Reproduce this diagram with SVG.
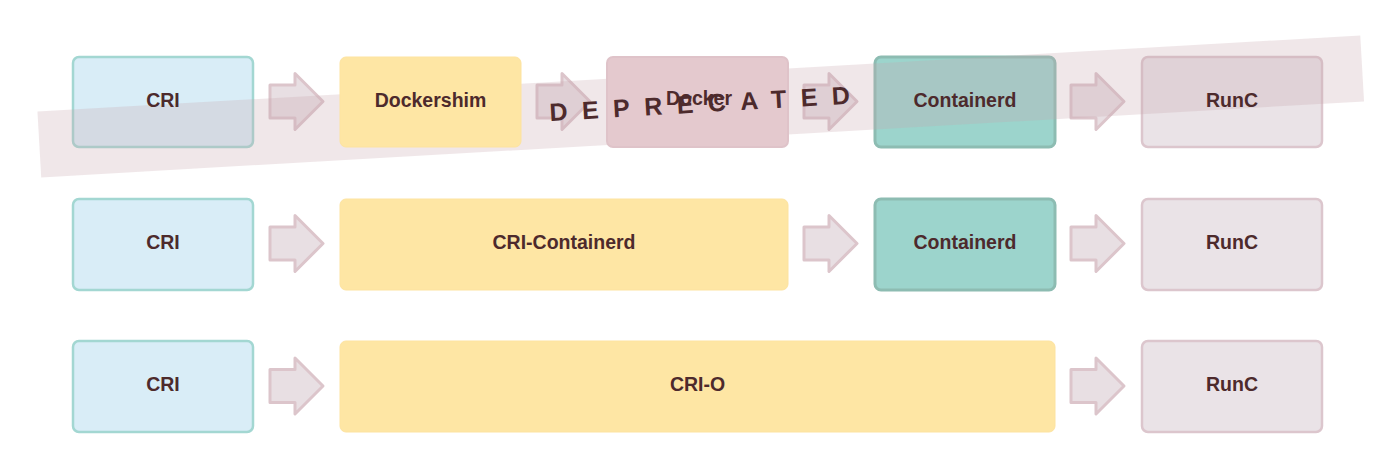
<svg xmlns="http://www.w3.org/2000/svg" width="1400" height="467" viewBox="0 0 1400 467">
  <style>
    .lbl { font-family: "Liberation Sans", Arial, sans-serif; font-weight: bold; font-size: 19.5px; fill: #4d2a2c; text-anchor: middle; }
    .cri { fill: #d9edf7; stroke: #a3d7d2; stroke-width: 2.5; }
    .shim { fill: #fee6a4; stroke: #fde3a0; stroke-width: 1; }
    .docker { fill: #e4c9ce; stroke: #dfc3c9; stroke-width: 2; }
    .ctd { fill: #9cd4cc; stroke: #8dbcb2; stroke-width: 3; }
    .runc { fill: #eae3e7; stroke: #dcc6cd; stroke-width: 2.5; }
    .arrow { fill: #e8dfe3; stroke: #dcc5cb; stroke-width: 3; stroke-linejoin: round; }
    .banner { fill: #c8a8ae; fill-opacity: 0.27; }
    .dep { font-family: "Liberation Sans", Arial, sans-serif; font-weight: bold; font-size: 25px; fill: #4d2a2c; letter-spacing: 14.5px; }
  </style>
  <defs>
    <path id="arr" d="M0,-16.5 H25 V-28 L53,0 L25,28 V16.5 H0 Z"/>
  </defs>
  <rect width="1400" height="467" fill="#ffffff"/>

  <g id="connectors">
    <use href="#arr" class="arrow" transform="translate(270,101.5)"/>
    <use href="#arr" class="arrow" transform="translate(537,101.5)"/>
    <use href="#arr" class="arrow" transform="translate(804,101.5)"/>
    <use href="#arr" class="arrow" transform="translate(1071,101.5)"/>
    <use href="#arr" class="arrow" transform="translate(270,243.5)"/>
    <use href="#arr" class="arrow" transform="translate(804,243.5)"/>
    <use href="#arr" class="arrow" transform="translate(1071,243.5)"/>
    <use href="#arr" class="arrow" transform="translate(270,386)"/>
    <use href="#arr" class="arrow" transform="translate(1071,386)"/>
  </g>

  <g id="cri1"><rect class="cri" x="73" y="57" width="180" height="90" rx="6"/></g>
  <g id="containerd1"><rect class="ctd" x="875" y="57" width="180" height="90" rx="6"/></g>
  <g id="runc1"><rect class="runc" x="1142" y="57" width="180" height="90" rx="6"/></g>

  <g id="deprecated-banner">
    <rect class="banner" x="38.25" y="73.5" width="1325" height="66" transform="rotate(-3.29 700.75 106.5)"/>
  </g>

  <g id="dockershim"><rect class="shim" x="340" y="57" width="181" height="90" rx="6"/></g>
  <g id="docker"><rect class="docker" x="607" y="57" width="181" height="90" rx="6"/></g>

  <g id="cri2"><rect class="cri" x="73" y="199" width="180" height="91" rx="6"/><text class="lbl" x="163" y="249">CRI</text></g>
  <g id="cri-containerd"><rect class="shim" x="340" y="199" width="448" height="91" rx="6"/><text class="lbl" x="564" y="249">CRI-Containerd</text></g>
  <g id="containerd2"><rect class="ctd" x="875" y="199" width="180" height="91" rx="6"/><text class="lbl" x="965" y="249">Containerd</text></g>
  <g id="runc2"><rect class="runc" x="1142" y="199" width="180" height="91" rx="6"/><text class="lbl" x="1232" y="249">RunC</text></g>

  <g id="cri3"><rect class="cri" x="73" y="341" width="180" height="91" rx="6"/><text class="lbl" x="163" y="391">CRI</text></g>
  <g id="cri-o"><rect class="shim" x="340" y="341" width="715" height="91" rx="6"/><text class="lbl" x="697.5" y="391">CRI-O</text></g>
  <g id="runc3"><rect class="runc" x="1142" y="341" width="180" height="91" rx="6"/><text class="lbl" x="1232" y="391">RunC</text></g>

  <g id="row1-labels">
    <text class="lbl" x="163" y="106.5">CRI</text>
    <text class="lbl" x="430.5" y="106.5">Dockershim</text>
    <text class="lbl" x="699" y="105">Docker</text>
    <text class="lbl" x="965" y="106.5">Containerd</text>
    <text class="lbl" x="1232" y="106.5">RunC</text>
  </g>
  <text class="dep" x="550" y="121" transform="rotate(-3.3 550 121)">DEPRECATED</text>
</svg>
